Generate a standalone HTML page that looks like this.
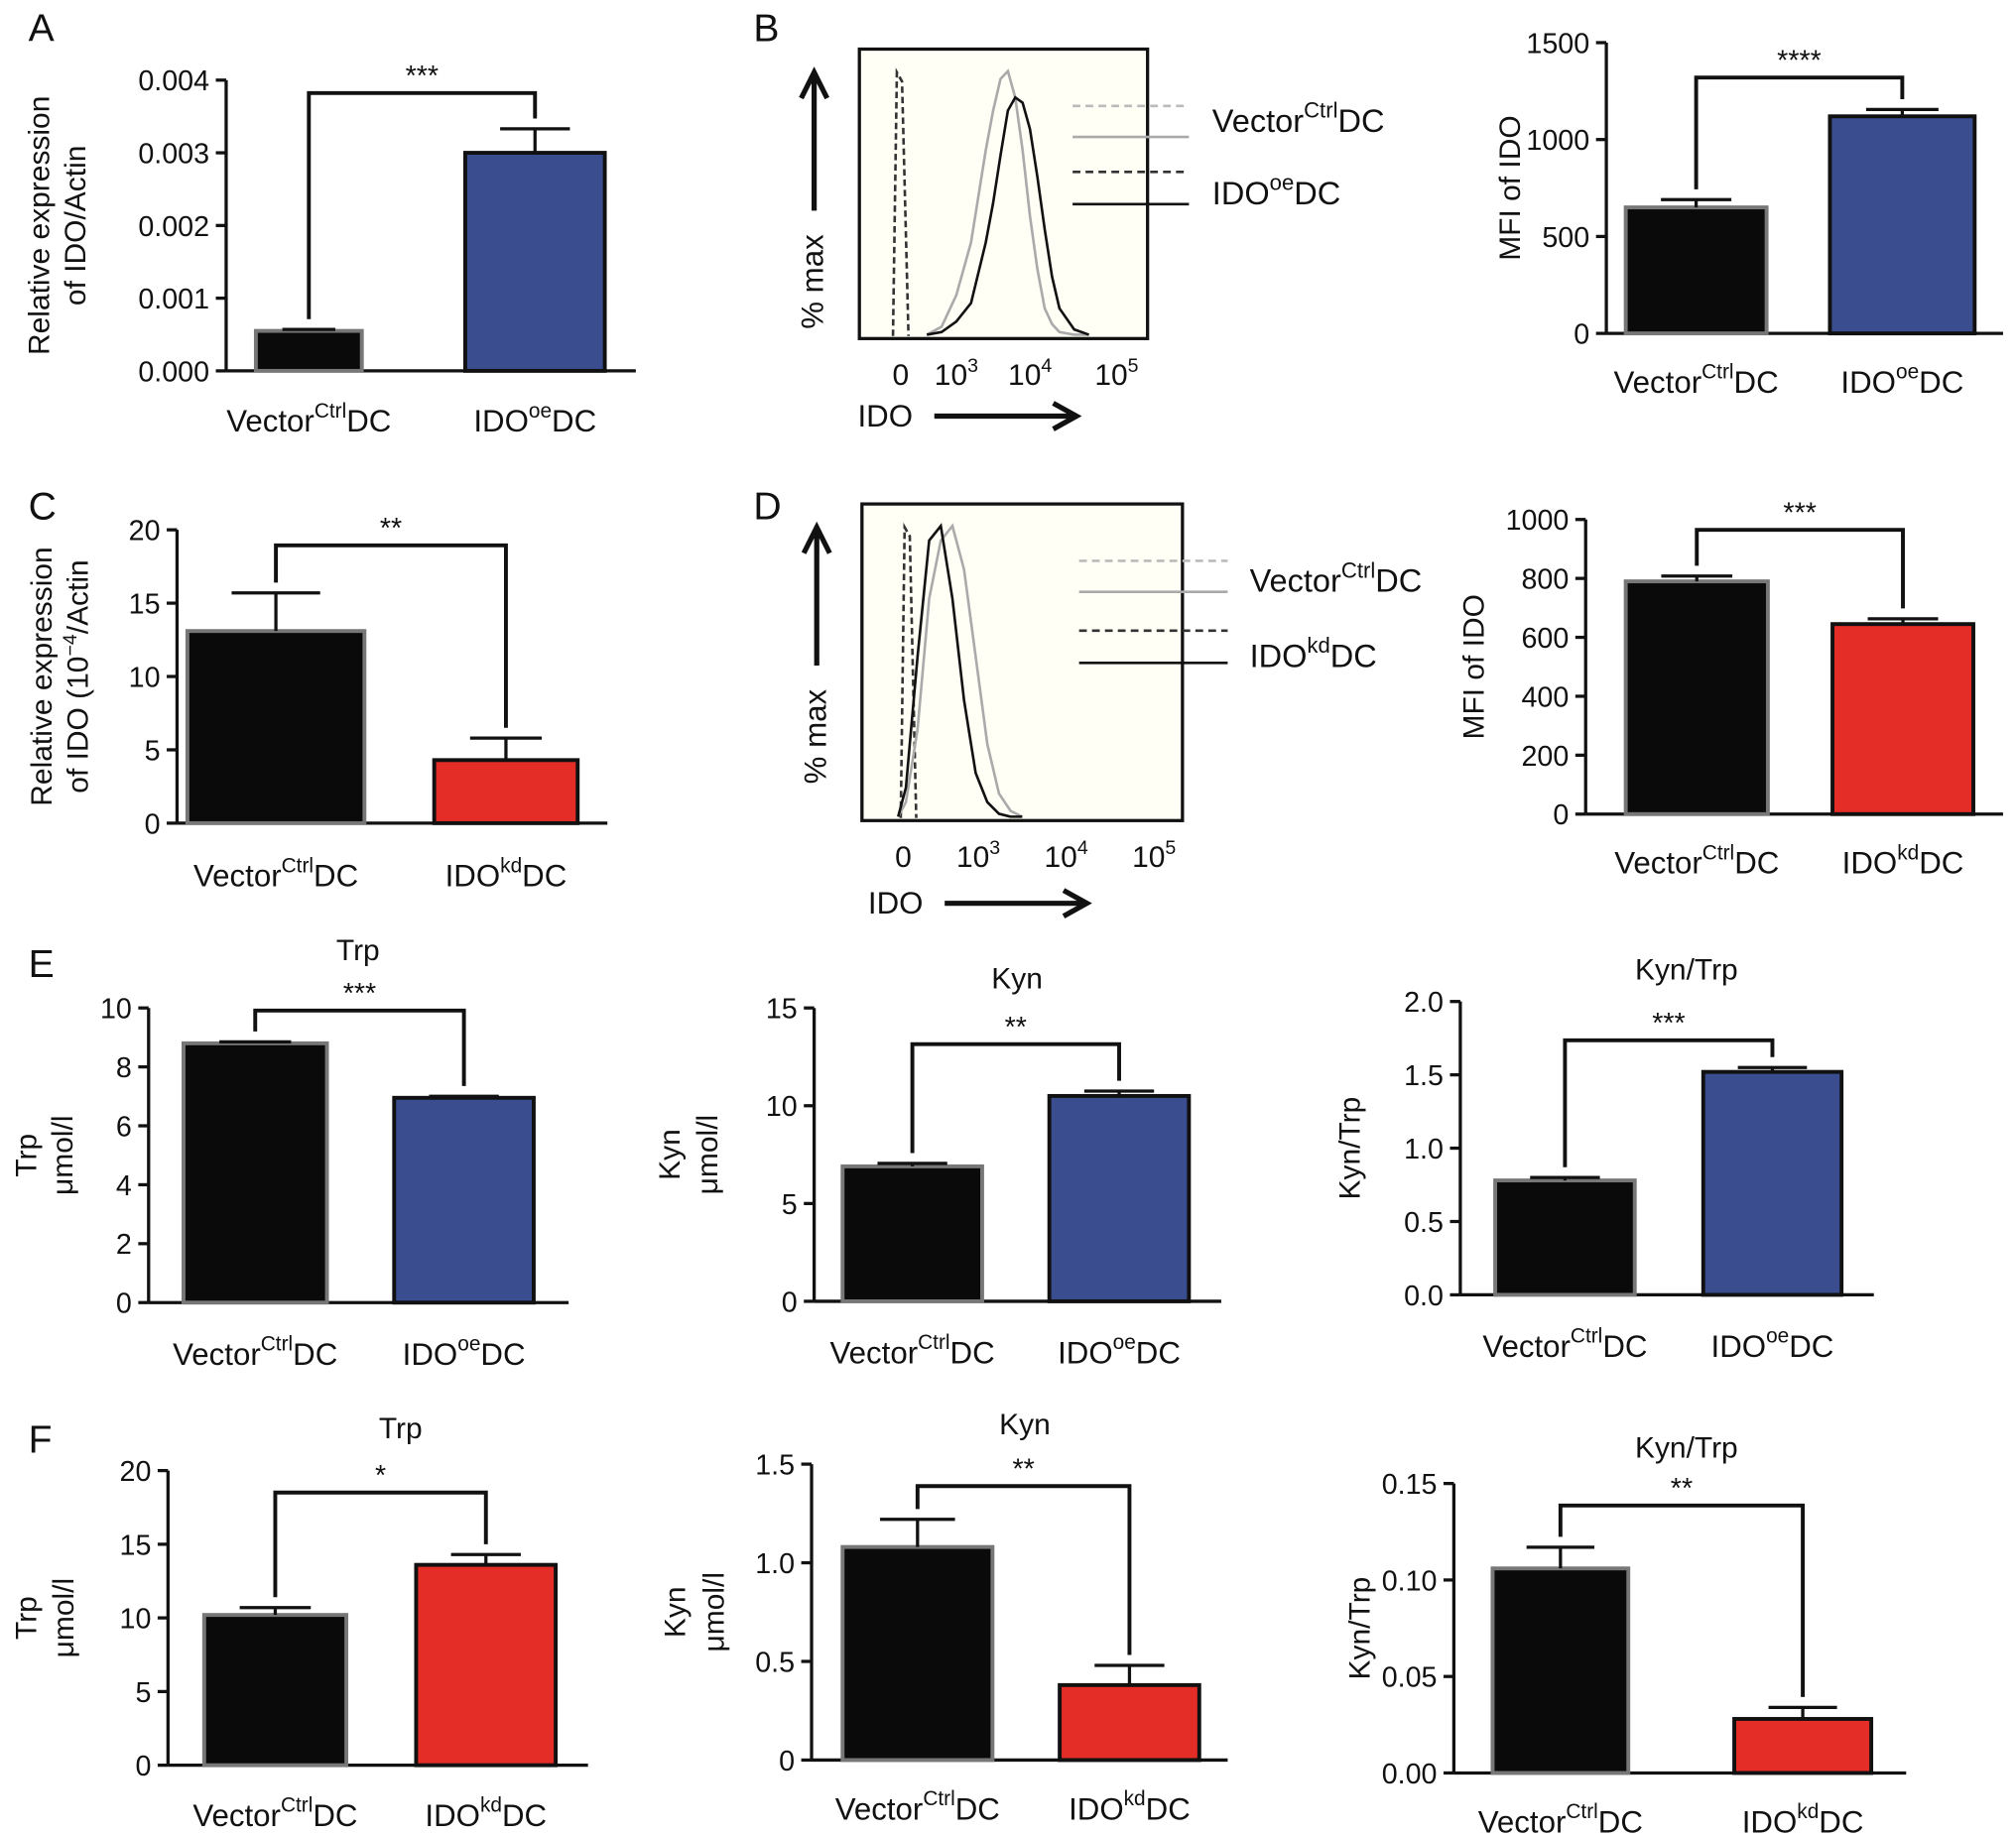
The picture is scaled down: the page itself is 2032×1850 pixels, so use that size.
<!DOCTYPE html>
<html><head><meta charset="utf-8">
<style>
html,body{margin:0;padding:0;background:#fff;}
svg{display:block;font-family:"Liberation Sans",Arial,sans-serif;}
</style></head>
<body>
<svg id="fig" xmlns="http://www.w3.org/2000/svg" width="2032" height="1850" viewBox="0 0 1560 1420" preserveAspectRatio="none"></svg>
<script>
// ---- data ----
const catsOE = ["Vector|Ctrl|DC","IDO|oe|DC"];
const catsKD = ["Vector|Ctrl|DC","IDO|kd|DC"];
const valsA = [0.00055, 0.0030];  const errA = [0.00002, 0.00033];
const ticksA = ["0.000","0.001","0.002","0.003","0.004"];
const valsB = [650, 1120]; const errB = [40, 35];
const ticksB = ["0","500","1000","1500"];
const valsC = [13.1, 4.3]; const errC = [2.6, 1.5];
const ticksC = ["0","5","10","15","20"];
const valsD = [790, 645]; const errD = [18, 18];
const ticksD = ["0","200","400","600","800","1000"];
const valsETrp = [8.8, 6.95]; const errETrp = [0.05, 0.05];
const ticksETrp = ["0","2","4","6","8","10"];
const valsEKyn = [6.9, 10.5]; const errEKyn = [0.15, 0.25];
const ticksEKyn = ["0","5","10","15"];
const valsERat = [0.78, 1.52]; const errERat = [0.02, 0.03];
const ticksERat = ["0.0","0.5","1.0","1.5","2.0"];
const valsFTrp = [10.2, 13.6]; const errFTrp = [0.5, 0.7];
const ticksFTrp = ["0","5","10","15","20"];
const valsFKyn = [1.08, 0.38]; const errFKyn = [0.14, 0.1];
const ticksFKyn = ["0","0.5","1.0","1.5"];
const valsFRat = [0.106, 0.028]; const errFRat = [0.011, 0.006];
const ticksFRat = ["0.00","0.05","0.10","0.15"];
// histogram counts (log-decade positions, relative height)
const histBx = [2.6,2.8,3.0,3.2,3.4,3.5,3.6,3.7,3.8,3.9,4.0,4.1,4.2,4.3,4.4,4.6,4.8];
const histBgray = [0,0.03,0.15,0.35,0.7,0.85,0.97,1.0,0.9,0.7,0.45,0.25,0.1,0.04,0.01,0,0];
const histBblack = [0,0.01,0.05,0.12,0.35,0.5,0.68,0.85,0.9,0.88,0.78,0.6,0.4,0.22,0.1,0.02,0];
const histDx = [-0.2,0,0.3,0.6,0.9,1.2,1.5,1.8,2.1,2.4,2.7,3.0];
const histDgray = [0,0.05,0.3,0.75,0.95,1.0,0.85,0.55,0.25,0.08,0.02,0];
const histDblack = [0,0.1,0.55,0.95,1.0,0.75,0.4,0.15,0.05,0.01,0,0];

const NS="http://www.w3.org/2000/svg";
const svg=document.getElementById('fig');
function el(tag,attrs,parent){const e=document.createElementNS(NS,tag);for(const k in attrs)e.setAttribute(k,attrs[k]);(parent||svg).appendChild(e);return e;}
function txt(x,y,s,size,anchor,parent){const t=el('text',{x:x,y:y,'font-size':size,'text-anchor':anchor||'middle',fill:'#111'},parent);t.textContent=s;return t;}
function catLabel(x,y,s,parent){const p=s.split('|');const t=el('text',{x:x,y:y,'font-size':24,'text-anchor':'middle',fill:'#111'},parent);
 t.appendChild(document.createTextNode(p[0]));const sp=el('tspan',{dy:-11,'font-size':16},t);sp.textContent=p[1];const s2=el('tspan',{dy:11},t);s2.textContent=p[2];return t;}

function barPanel(name,c){
 const g=el('g',{});
 
 
 const ys=v=>c.yb-(v/c.ymax)*(c.yb-c.yt);
 const ax=el('line',{x1:c.ax,y1:c.yt,x2:c.ax,y2:c.yb,stroke:'#111','stroke-width':2.5},g);
 
 
 const xa=el('line',{x1:c.ax,y1:c.yb,x2:c.xe,y2:c.yb,stroke:'#111','stroke-width':2.5},g);
 
 
 c.ticks.forEach((t,i)=>{const v=c.ymax*i/(c.ticks.length-1);const y=ys(v);
  el('line',{x1:c.ax-8,y1:y,x2:c.ax,y2:y,stroke:'#111','stroke-width':2.5},g);
  const tl=txt(c.ax-13,y+8,t,22,'end',g);
  
  });
 c.vals.forEach((v,i)=>{const [x0,x1]=c.bx[i];const y=ys(v);
  const fill=i==0?'#0a0a0a':c.color;const stroke=i==0?'#777':'#111';
  const r=el('rect',{x:x0,y:y,width:x1-x0,height:c.yb-y,fill:fill,stroke:stroke,'stroke-width':3},g);
  
  
  const xm=(x0+x1)/2,ye=ys(v+c.err[i]),cw=(x1-x0)*0.25;
  const e=el('path',{d:`M${xm},${y} V${ye} M${xm-cw},${ye} H${xm+cw}`,stroke:'#111','stroke-width':2.5,fill:'none'},g);
  
  
  const cl=catLabel(xm,c.ly,c.cats[i],g);
  
  
 });
 const bxm=c.bx.map(b=>(b[0]+b[1])/2);
 const e0=ys(c.vals[0]+c.err[0])-8,e1=ys(c.vals[1]+c.err[1])-8;
 const br=el('path',{d:`M${bxm[0]},${e0} V${c.by} H${bxm[1]} V${e1}`,stroke:'#111','stroke-width':3,fill:'none'},g);
 
 
 const st=txt((bxm[0]+bxm[1])/2,c.by-6,c.stars,22,'middle',g);
 
 
 if(c.title){const tt=txt(c.title[0],c.title[1],c.title[2],23,'middle',g);
  
  }
 const yc=(c.yt+c.yb)/2;
 c.ytitle.forEach((s,i)=>{const x=c.ytx[i];
  const t=el('text',{x:x,y:yc,'font-size':23,'text-anchor':'middle',fill:'#111',transform:`rotate(-90 ${x} ${yc})`},g);
  if(s.indexOf('^')>=0){const p=s.split('^');t.appendChild(document.createTextNode(p[0]));const s1=el('tspan',{dy:-9,'font-size':15},t);s1.textContent=p[1];const s2=el('tspan',{dy:9},t);s2.textContent=p[2];}
  else t.textContent=s;
  
  });
}
const BLUE='#3a4d8f',RED='#e52d27';
barPanel('panel-a-chart',{ax:175,xe:492,yt:62,yb:287,ymax:0.004,ticks:ticksA,vals:valsA,err:errA,bx:[[198,280],[360,468]],color:BLUE,cats:catsOE,ly:334,by:72,stars:'***',ytitle:['Relative expression','of IDO/Actin'],ytx:[38,66]});
barPanel('panel-b-mfi-chart',{ax:1243,xe:1550,yt:33,yb:258,ymax:1500,ticks:ticksB,vals:valsB,err:errB,bx:[[1258,1367],[1416,1528]],color:BLUE,cats:catsOE,ly:304,by:60,stars:'****',ytitle:['MFI of IDO'],ytx:[1176]});
barPanel('panel-c-chart',{ax:137,xe:470,yt:410,yb:637,ymax:20,ticks:ticksC,vals:valsC,err:errC,bx:[[145,282],[336,447]],color:RED,cats:catsKD,ly:686,by:422,stars:'**',ytitle:['Relative expression','of IDO (10^−4^/Actin'],ytx:[40,68]});
barPanel('panel-d-mfi-chart',{ax:1227,xe:1550,yt:402,yb:630,ymax:1000,ticks:ticksD,vals:valsD,err:errD,bx:[[1258,1368],[1418,1527]],color:RED,cats:catsKD,ly:676,by:410,stars:'***',ytitle:['MFI of IDO'],ytx:[1148]});
barPanel('panel-e-trp-chart',{ax:115,xe:440,yt:780,yb:1008,ymax:10,ticks:ticksETrp,vals:valsETrp,err:errETrp,bx:[[142,253],[305,413]],color:BLUE,cats:catsOE,ly:1056,by:782,stars:'***',title:[277,743,'Trp'],ytitle:['Trp','μmol/l'],ytx:[28,56]});
barPanel('panel-e-kyn-chart',{ax:630,xe:945,yt:780,yb:1007,ymax:15,ticks:ticksEKyn,vals:valsEKyn,err:errEKyn,bx:[[652,760],[812,920]],color:BLUE,cats:catsOE,ly:1055,by:808,stars:'**',title:[787,765,'Kyn'],ytitle:['Kyn','μmol/l'],ytx:[526,555]});
barPanel('panel-e-ratio-chart',{ax:1130,xe:1450,yt:775,yb:1002,ymax:2,ticks:ticksERat,vals:valsERat,err:errERat,bx:[[1157,1265],[1318,1425]],color:BLUE,cats:catsOE,ly:1050,by:805,stars:'***',title:[1305,758,'Kyn/Trp'],ytitle:['Kyn/Trp'],ytx:[1052]});
barPanel('panel-f-trp-chart',{ax:130,xe:455,yt:1138,yb:1366,ymax:20,ticks:ticksFTrp,vals:valsFTrp,err:errFTrp,bx:[[158,268],[322,430]],color:RED,cats:catsKD,ly:1413,by:1155,stars:'*',title:[310,1113,'Trp'],ytitle:['Trp','μmol/l'],ytx:[28,57]});
barPanel('panel-f-kyn-chart',{ax:628,xe:950,yt:1133,yb:1362,ymax:1.5,ticks:ticksFKyn,vals:valsFKyn,err:errFKyn,bx:[[652,768],[820,928]],color:RED,cats:catsKD,ly:1408,by:1150,stars:'**',title:[793,1110,'Kyn'],ytitle:['Kyn','μmol/l'],ytx:[530,560]});
barPanel('panel-f-ratio-chart',{ax:1125,xe:1475,yt:1148,yb:1372,ymax:0.15,ticks:ticksFRat,vals:valsFRat,err:errFRat,bx:[[1155,1260],[1342,1448]],color:RED,cats:catsKD,ly:1418,by:1165,stars:'**',title:[1305,1128,'Kyn/Trp'],ytitle:['Kyn/Trp'],ytx:[1060]});

function histPanel(name,c){
 const g=el('g',{});
 
 
 const bx=el('rect',{x:c.x0,y:c.y0,width:c.x1-c.x0,height:c.y1-c.y0,fill:'#fffff6',stroke:'#111','stroke-width':2.5},g);
 
 
 const xs=d=>c.ox+(d-c.od)*c.dec; const ys=v=>c.y1-3-v*(c.y1-c.y0-20);
 const iso=el('path',{d:`M${c.zx-4},${c.y1-2} L${c.zx-1},${c.y0+18} L${c.zx+3},${c.y0+25} L${c.zx+8},${c.y1-2}`,stroke:'#333','stroke-width':2,'stroke-dasharray':'5,3',fill:'none'},g);
 
 
 const mk=(vals,col,nm)=>{const d=c.hx.map((x,i)=>(i?'L':'M')+xs(x)+','+ys(vals[i])).join(' ');
  const p=el('path',{d:d,stroke:col,'stroke-width':2,fill:'none'},g);
  
  };
 mk(c.gray,'#aaa','vector-curve'); mk(c.black,'#111','ido-curve');
 c.tl.forEach((t,i)=>{const tx=el('text',{x:c.tx[i],y:c.y1+36,'font-size':23,'text-anchor':'middle',fill:'#111'},g);
  tx.appendChild(document.createTextNode(t[0]));if(t[1]){const s=el('tspan',{dy:-10,'font-size':15},tx);s.textContent=t[1];}
  
  });
 const il=txt(c.idox,c.idoy,'IDO',24,'middle',g);
 
 
 el('path',{d:`M${c.idox+38},${c.idoy-8} H${c.idox+145} M${c.idox+130},${c.idoy-18} L${c.idox+148},${c.idoy-8} L${c.idox+130},${c.idoy+2}`,stroke:'#111','stroke-width':4,fill:'none'},g);
 el('path',{d:`M${c.x0-35},${c.y0+125} V${c.y0+22} M${c.x0-45},${c.y0+38} L${c.x0-35},${c.y0+18} L${c.x0-25},${c.y0+38}`,stroke:'#111','stroke-width':4,fill:'none'},g);
 const ym=c.y0+180;
 const yt=el('text',{x:c.x0-28,y:ym,'font-size':24,'text-anchor':'middle',fill:'#111',transform:`rotate(-90 ${c.x0-28} ${ym})`},g);
 yt.textContent='% max';
 
 
 const L=c.leg;
 [['#bbb','6,4'],['#aaa',''],['#333','6,4'],['#111','']].forEach((s,i)=>{
  const ln=el('line',{x1:L.x0,x2:L.x1,y1:L.ys[i],y2:L.ys[i],stroke:s[0],'stroke-width':2,'stroke-dasharray':s[1]},g);
  
  });
 [['Vector','Ctrl','DC',L.t1],['IDO',c.sup,'DC',L.t2]].forEach(s=>{
  const t=el('text',{x:L.tx,y:s[3],'font-size':25,fill:'#111'},g);
  t.appendChild(document.createTextNode(s[0]));const a=el('tspan',{dy:-11,'font-size':17},t);a.textContent=s[1];const b=el('tspan',{dy:11},t);b.textContent=s[2];
  
  });
}
histPanel('panel-b-histogram',{x0:665,x1:888,y0:38,y1:262,zx:695,ox:740,od:3,dec:57,hx:histBx,gray:histBgray,black:histBblack,
 tl:[['0'],['10','3'],['10','4'],['10','5']],tx:[697,740,797,864],idox:685,idoy:330,sup:'oe',
 leg:{x0:830,x1:920,ys:[82,106,133,158],tx:938,t1:102,t2:158}});
histPanel('panel-d-histogram',{x0:667,x1:915,y0:390,y1:635,zx:701,ox:701,od:0,dec:30,hx:histDx,gray:histDgray,black:histDblack,
 tl:[['0'],['10','3'],['10','4'],['10','5']],tx:[699,757,825,893],idox:693,idoy:707,sup:'kd',
 leg:{x0:835,x1:950,ys:[434,458,488,513],tx:967,t1:458,t2:516}});

[['A',22,32],['B',583,32],['C',22,402],['D',583,402],['E',22,756],['F',22,1124]].forEach(p=>{
 const t=txt(p[1],p[2],p[0],30,'start');
 
 });
</script>
</body></html>
